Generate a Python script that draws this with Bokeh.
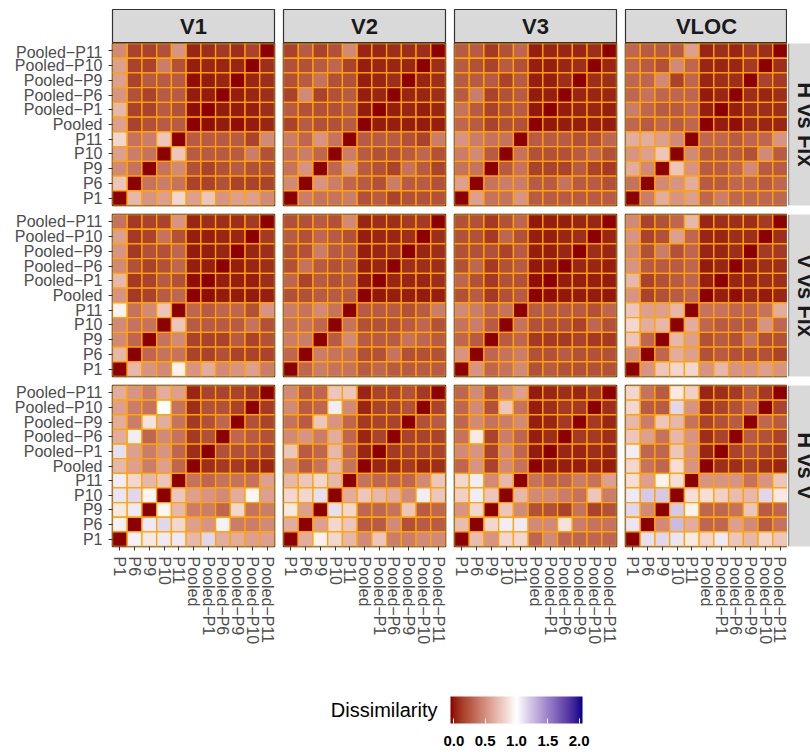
import numpy as np
from bokeh.plotting import figure
from bokeh.models import (FactorRange, Range1d, ColumnDataSource, LinearColorMapper, ColorBar,
                          FixedTicker, PrintfTickFormatter, Span)
from bokeh.layouts import gridplot, column
from bokeh.transform import transform
from bokeh.core.properties import value
from bokeh.embed import file_html
from bokeh.resources import INLINE

M = "\u2212"
categories = ["P1", "P6", "P9", "P10", "P11", "Pooled", "Pooled" + M + "P1", "Pooled" + M + "P6",
              "Pooled" + M + "P9", "Pooled" + M + "P10", "Pooled" + M + "P11"]
col_facets = ["V1", "V2", "V3", "VLOC"]
row_facets = ["H vs Fix", "V vs Fix", "H vs V"]
legend_title = "Dissimilarity"
legend_ticks = [0.0, 0.5, 1.0, 1.5, 2.0]

# each matrix: rows from top (Pooled-P11) to bottom (P1); columns P1 ... Pooled-P11
hfix_v1 = [
    [0.50, 0.20, 0.20, 0.25, 0.55, 0.09, 0.12, 0.16, 0.12, 0.20, 0],
    [0.60, 0.20, 0.20, 0.45, 0.25, 0.07, 0.09, 0.09, 0.09, 0, 0.12],
    [0.60, 0.20, 0.30, 0.30, 0.30, 0.03, 0.06, 0.09, 0, 0.09, 0.12],
    [0.55, 0.25, 0.20, 0.30, 0.30, 0.06, 0.06, 0, 0.07, 0.09, 0.12],
    [0.70, 0.20, 0.20, 0.30, 0.25, 0.03, 0, 0.06, 0.06, 0.07, 0.12],
    [0.60, 0.20, 0.25, 0.30, 0.30, 0, 0.03, 0.06, 0.03, 0.06, 0.09],
    [0.83, 0.40, 0.45, 0.76, 0, 0.30, 0.30, 0.30, 0.30, 0.20, 0.50],
    [0.60, 0.45, 0.40, 0, 0.76, 0.30, 0.30, 0.30, 0.30, 0.45, 0.25],
    [0.50, 0.40, 0, 0.40, 0.50, 0.25, 0.20, 0.25, 0.30, 0.25, 0.25],
    [0.76, 0, 0.40, 0.45, 0.40, 0.20, 0.20, 0.25, 0.20, 0.20, 0.20],
    [0, 0.70, 0.55, 0.60, 0.83, 0.60, 0.76, 0.55, 0.60, 0.60, 0.50],
]
hfix_v2 = [
    [0.20, 0.30, 0.20, 0.25, 0.50, 0.09, 0.09, 0.12, 0.12, 0.12, 0],
    [0.25, 0.25, 0.30, 0.35, 0.20, 0.07, 0.09, 0.09, 0.09, 0, 0.12],
    [0.25, 0.30, 0.40, 0.25, 0.25, 0.07, 0.09, 0.12, 0, 0.09, 0.12],
    [0.20, 0.50, 0.20, 0.25, 0.30, 0.07, 0.09, 0, 0.09, 0.09, 0.12],
    [0.30, 0.25, 0.25, 0.25, 0.30, 0.06, 0, 0.07, 0.09, 0.07, 0.09],
    [0.20, 0.30, 0.25, 0.25, 0.30, 0, 0.06, 0.07, 0.07, 0.06, 0.07],
    [0.45, 0.35, 0.55, 0.40, 0, 0.30, 0.30, 0.30, 0.25, 0.20, 0.45],
    [0.40, 0.45, 0.35, 0, 0.45, 0.30, 0.25, 0.25, 0.30, 0.35, 0.25],
    [0.40, 0.55, 0, 0.35, 0.55, 0.30, 0.25, 0.20, 0.40, 0.30, 0.20],
    [0.50, 0, 0.55, 0.45, 0.35, 0.30, 0.25, 0.45, 0.30, 0.30, 0.25],
    [0, 0.45, 0.40, 0.40, 0.45, 0.25, 0.30, 0.20, 0.25, 0.25, 0.25],
]
hfix_v3 = [
    [0.30, 0.30, 0.16, 0.25, 0.35, 0.07, 0.09, 0.09, 0.09, 0.12, 0],
    [0.30, 0.25, 0.20, 0.30, 0.25, 0.07, 0.07, 0.09, 0.12, 0, 0.09],
    [0.30, 0.30, 0.30, 0.20, 0.30, 0.07, 0.07, 0.12, 0, 0.12, 0.12],
    [0.30, 0.45, 0.20, 0.25, 0.30, 0.06, 0.07, 0, 0.09, 0.09, 0.09],
    [0.40, 0.30, 0.20, 0.25, 0.30, 0.05, 0, 0.06, 0.09, 0.09, 0.07],
    [0.35, 0.30, 0.20, 0.25, 0.25, 0, 0.05, 0.06, 0.07, 0.07, 0.06],
    [0.55, 0.45, 0.40, 0.40, 0, 0.30, 0.30, 0.30, 0.25, 0.25, 0.35],
    [0.45, 0.50, 0.30, 0, 0.40, 0.25, 0.25, 0.25, 0.30, 0.35, 0.25],
    [0.40, 0.40, 0, 0.30, 0.40, 0.20, 0.20, 0.20, 0.30, 0.20, 0.16],
    [0.60, 0, 0.40, 0.45, 0.45, 0.30, 0.30, 0.40, 0.30, 0.30, 0.25],
    [0, 0.60, 0.40, 0.40, 0.55, 0.30, 0.30, 0.30, 0.30, 0.30, 0.30],
]
hfix_vloc = [
    [0.35, 0.30, 0.30, 0.30, 0.60, 0.09, 0.12, 0.09, 0.16, 0.12, 0],
    [0.35, 0.30, 0.25, 0.50, 0.35, 0.09, 0.09, 0.09, 0.16, 0, 0.12],
    [0.35, 0.35, 0.50, 0.20, 0.35, 0.09, 0.12, 0.12, 0, 0.20, 0.16],
    [0.35, 0.40, 0.35, 0.35, 0.35, 0.06, 0.09, 0, 0.12, 0.09, 0.12],
    [0.45, 0.35, 0.30, 0.30, 0.35, 0.07, 0, 0.07, 0.12, 0.12, 0.12],
    [0.35, 0.30, 0.35, 0.30, 0.35, 0, 0.06, 0.03, 0.12, 0.09, 0.09],
    [0.65, 0.65, 0.60, 0.50, 0, 0.35, 0.35, 0.30, 0.35, 0.35, 0.55],
    [0.55, 0.60, 0.76, 0, 0.50, 0.30, 0.30, 0.30, 0.25, 0.50, 0.30],
    [0.65, 0.50, 0, 0.76, 0.55, 0.30, 0.30, 0.35, 0.50, 0.30, 0.30],
    [0.40, 0, 0.50, 0.55, 0.65, 0.30, 0.30, 0.35, 0.35, 0.30, 0.35],
    [0, 0.45, 0.65, 0.55, 0.60, 0.35, 0.45, 0.35, 0.35, 0.35, 0.35],
]
vfix_v1 = [
    [0.40, 0.16, 0.20, 0.20, 0.55, 0.09, 0.12, 0.12, 0.12, 0.16, 0],
    [0.60, 0.16, 0.20, 0.40, 0.25, 0.07, 0.07, 0.09, 0.09, 0, 0.16],
    [0.55, 0.16, 0.25, 0.25, 0.35, 0.06, 0.07, 0.09, 0, 0.09, 0.12],
    [0.50, 0.25, 0.20, 0.25, 0.35, 0.07, 0.07, 0, 0.07, 0.09, 0.12],
    [0.70, 0.16, 0.20, 0.30, 0.25, 0.03, 0, 0.07, 0.07, 0.07, 0.12],
    [0.55, 0.16, 0.20, 0.30, 0.35, 0, 0.03, 0.06, 0.06, 0.06, 0.07],
    [0.94, 0.40, 0.50, 0.76, 0, 0.35, 0.30, 0.35, 0.35, 0.25, 0.55],
    [0.50, 0.40, 0.40, 0, 0.76, 0.30, 0.30, 0.30, 0.30, 0.40, 0.25],
    [0.50, 0.35, 0, 0.40, 0.50, 0.20, 0.20, 0.20, 0.30, 0.20, 0.25],
    [0.70, 0, 0.35, 0.40, 0.40, 0.20, 0.20, 0.25, 0.20, 0.20, 0.20],
    [0, 0.70, 0.55, 0.50, 0.94, 0.55, 0.65, 0.50, 0.55, 0.60, 0.45],
]
vfix_v2 = [
    [0.25, 0.25, 0.30, 0.25, 0.50, 0.09, 0.12, 0.12, 0.16, 0.16, 0],
    [0.30, 0.25, 0.35, 0.30, 0.25, 0.07, 0.09, 0.09, 0.12, 0, 0.12],
    [0.25, 0.25, 0.45, 0.30, 0.30, 0.07, 0.09, 0.12, 0, 0.09, 0.12],
    [0.25, 0.40, 0.30, 0.25, 0.30, 0.07, 0.09, 0, 0.12, 0.12, 0.12],
    [0.35, 0.20, 0.30, 0.25, 0.30, 0.06, 0, 0.09, 0.09, 0.09, 0.12],
    [0.25, 0.25, 0.30, 0.30, 0.30, 0, 0.05, 0.07, 0.07, 0.06, 0.07],
    [0.45, 0.40, 0.50, 0.40, 0, 0.30, 0.30, 0.30, 0.25, 0.30, 0.45],
    [0.40, 0.40, 0.35, 0, 0.40, 0.25, 0.25, 0.25, 0.30, 0.35, 0.25],
    [0.45, 0.45, 0, 0.30, 0.50, 0.30, 0.30, 0.30, 0.40, 0.35, 0.30],
    [0.35, 0, 0.45, 0.40, 0.40, 0.25, 0.25, 0.40, 0.25, 0.25, 0.25],
    [0, 0.35, 0.45, 0.40, 0.40, 0.30, 0.35, 0.30, 0.30, 0.30, 0.30],
]
vfix_v3 = [
    [0.25, 0.25, 0.16, 0.25, 0.35, 0.05, 0.07, 0.07, 0.09, 0.09, 0],
    [0.25, 0.25, 0.16, 0.35, 0.25, 0.07, 0.07, 0.09, 0.12, 0, 0.09],
    [0.25, 0.25, 0.25, 0.20, 0.30, 0.07, 0.07, 0.09, 0, 0.12, 0.09],
    [0.25, 0.35, 0.16, 0.25, 0.30, 0.05, 0.07, 0, 0.09, 0.09, 0.07],
    [0.35, 0.25, 0.16, 0.25, 0.25, 0.03, 0, 0.06, 0.07, 0.07, 0.06],
    [0.25, 0.30, 0.16, 0.25, 0.30, 0, 0.03, 0.05, 0.06, 0.06, 0.05],
    [0.50, 0.45, 0.35, 0.40, 0, 0.30, 0.30, 0.30, 0.30, 0.25, 0.35],
    [0.40, 0.45, 0.30, 0, 0.40, 0.25, 0.25, 0.25, 0.20, 0.35, 0.25],
    [0.35, 0.30, 0, 0.30, 0.35, 0.16, 0.16, 0.16, 0.20, 0.16, 0.16],
    [0.55, 0, 0.35, 0.40, 0.45, 0.25, 0.25, 0.30, 0.25, 0.25, 0.25],
    [0, 0.55, 0.35, 0.40, 0.50, 0.25, 0.30, 0.25, 0.25, 0.25, 0.25],
]
vfix_vloc = [
    [0.50, 0.20, 0.25, 0.35, 0.70, 0.09, 0.12, 0.12, 0.12, 0.16, 0],
    [0.55, 0.20, 0.25, 0.60, 0.35, 0.09, 0.09, 0.12, 0.12, 0, 0.12],
    [0.50, 0.25, 0.45, 0.25, 0.35, 0.09, 0.09, 0.12, 0, 0.16, 0.16],
    [0.55, 0.30, 0.30, 0.30, 0.35, 0.06, 0.09, 0, 0.09, 0.12, 0.12],
    [0.70, 0.20, 0.25, 0.30, 0.35, 0.07, 0, 0.09, 0.09, 0.12, 0.12],
    [0.55, 0.20, 0.25, 0.30, 0.35, 0, 0.07, 0.03, 0.09, 0.06, 0.09],
    [0.76, 0.60, 0.60, 0.70, 0, 0.40, 0.40, 0.35, 0.35, 0.40, 0.65],
    [0.83, 0.65, 0.70, 0, 0.65, 0.35, 0.30, 0.30, 0.30, 0.55, 0.35],
    [0.76, 0.35, 0, 0.70, 0.60, 0.25, 0.30, 0.25, 0.40, 0.25, 0.25],
    [0.50, 0, 0.35, 0.65, 0.60, 0.25, 0.30, 0.25, 0.25, 0.25, 0.20],
    [0, 0.55, 0.76, 0.83, 0.83, 0.55, 0.70, 0.55, 0.55, 0.60, 0.55],
]
hv_v1 = [
    [0.65, 0.55, 0.45, 0.65, 0.60, 0.09, 0.20, 0.20, 0.20, 0.16, 0],
    [0.60, 0.45, 0.40, 1.00, 0.40, 0.12, 0.25, 0.25, 0.20, 0, 0.16],
    [0.65, 0.45, 0.88, 0.65, 0.40, 0.16, 0.25, 0.35, 0, 0.25, 0.20],
    [0.65, 1.07, 0.35, 0.50, 0.40, 0.16, 0.25, 0, 0.35, 0.30, 0.25],
    [1.12, 0.60, 0.45, 0.55, 0.35, 0.12, 0, 0.25, 0.25, 0.25, 0.20],
    [0.70, 0.60, 0.45, 0.60, 0.35, 0, 0.12, 0.16, 0.16, 0.12, 0.09],
    [1.07, 0.83, 0.70, 0.76, 0, 0.40, 0.35, 0.40, 0.40, 0.40, 0.60],
    [1.10, 1.15, 0.96, 0, 0.76, 0.60, 0.55, 0.50, 0.65, 0.96, 0.60],
    [0.91, 1.08, 0, 0.96, 0.70, 0.45, 0.45, 0.35, 0.83, 0.40, 0.45],
    [1.05, 0, 1.08, 1.15, 0.83, 0.60, 0.55, 1.05, 0.45, 0.45, 0.50],
    [0, 1.05, 0.91, 1.08, 1.08, 0.70, 1.15, 0.65, 0.65, 0.60, 0.60],
]
hv_v2 = [
    [0.50, 0.30, 0.35, 0.76, 0.76, 0.09, 0.20, 0.20, 0.25, 0.16, 0],
    [0.50, 0.30, 0.35, 1.07, 0.50, 0.09, 0.20, 0.20, 0.25, 0, 0.20],
    [0.40, 0.30, 0.76, 0.55, 0.35, 0.16, 0.20, 0.20, 0, 0.25, 0.30],
    [0.50, 0.55, 0.45, 0.65, 0.35, 0.09, 0.20, 0, 0.20, 0.20, 0.20],
    [0.76, 0.30, 0.35, 0.70, 0.35, 0.09, 0, 0.16, 0.20, 0.20, 0.20],
    [0.50, 0.30, 0.40, 0.70, 0.40, 0, 0.09, 0.09, 0.16, 0.09, 0.12],
    [0.70, 0.76, 0.83, 0.70, 0, 0.40, 0.35, 0.35, 0.35, 0.50, 0.76],
    [0.83, 0.83, 1.12, 0, 0.65, 0.76, 0.70, 0.65, 0.50, 1.07, 0.76],
    [0.91, 0.60, 0, 1.12, 0.83, 0.35, 0.35, 0.40, 0.76, 0.30, 0.35],
    [0.65, 0, 0.60, 0.83, 0.76, 0.30, 0.30, 0.50, 0.25, 0.30, 0.30],
    [0, 0.65, 0.94, 0.83, 0.70, 0.50, 0.76, 0.45, 0.45, 0.50, 0.50],
]
hv_v3 = [
    [0.35, 0.50, 0.25, 0.50, 0.60, 0.06, 0.09, 0.12, 0.09, 0.16, 0],
    [0.35, 0.50, 0.25, 0.76, 0.40, 0.07, 0.12, 0.16, 0.16, 0, 0.12],
    [0.35, 0.50, 0.40, 0.45, 0.50, 0.07, 0.09, 0.16, 0, 0.16, 0.09],
    [0.40, 0.91, 0.20, 0.45, 0.35, 0.07, 0.12, 0, 0.16, 0.16, 0.12],
    [0.50, 0.55, 0.20, 0.50, 0.35, 0.06, 0, 0.09, 0.09, 0.12, 0.09],
    [0.35, 0.55, 0.20, 0.50, 0.40, 0, 0.06, 0.07, 0.07, 0.09, 0.06],
    [0.83, 1.07, 0.50, 0.70, 0, 0.40, 0.35, 0.35, 0.45, 0.40, 0.60],
    [0.80, 1.07, 0.76, 0, 0.70, 0.50, 0.50, 0.45, 0.40, 0.76, 0.45],
    [0.55, 0.83, 0, 0.76, 0.50, 0.25, 0.25, 0.20, 0.40, 0.20, 0.25],
    [0.72, 0, 0.83, 1.07, 1.08, 0.50, 0.50, 0.88, 0.45, 0.40, 0.40],
    [0, 0.72, 0.55, 0.83, 0.83, 0.35, 0.50, 0.35, 0.35, 0.35, 0.35],
]
hv_vloc = [
    [0.83, 0.40, 0.30, 0.91, 0.80, 0.09, 0.12, 0.16, 0.30, 0.16, 0],
    [0.83, 0.30, 0.30, 1.15, 0.55, 0.12, 0.20, 0.25, 0.35, 0, 0.20],
    [0.70, 0.45, 0.76, 0.70, 0.40, 0.20, 0.25, 0.30, 0, 0.35, 0.30],
    [0.76, 0.60, 0.40, 0.70, 0.55, 0.12, 0.20, 0, 0.30, 0.25, 0.20],
    [1.07, 0.35, 0.35, 0.76, 0.55, 0.09, 0, 0.20, 0.25, 0.20, 0.16],
    [0.83, 0.40, 0.35, 0.86, 0.55, 0, 0.12, 0.12, 0.20, 0.12, 0.09],
    [0.86, 0.60, 0.94, 0.86, 0, 0.55, 0.55, 0.55, 0.40, 0.55, 0.76],
    [1.08, 1.20, 1.20, 0, 0.86, 0.86, 0.80, 0.72, 0.70, 1.15, 0.91],
    [1.15, 0.50, 0, 1.20, 0.94, 0.35, 0.35, 0.40, 0.76, 0.30, 0.35],
    [1.10, 0, 0.50, 1.25, 0.65, 0.35, 0.35, 0.60, 0.50, 0.30, 0.40],
    [0, 1.12, 1.15, 1.10, 0.91, 0.83, 1.08, 0.76, 0.70, 0.83, 0.76],
]

matrices = [
    [hfix_v1, hfix_v2, hfix_v3, hfix_vloc],
    [vfix_v1, vfix_v2, vfix_v3, vfix_vloc],
    [hv_v1, hv_v2, hv_v3, hv_vloc],
]

# ---- diverging palette darkred -> white -> darkblue, interpolated in CIE Lab ----
_M = np.array([[0.4124564, 0.3575761, 0.1804375],
               [0.2126729, 0.7151522, 0.0721750],
               [0.0193339, 0.1191920, 0.9503041]])
_WP = np.array([0.95047, 1.0, 1.08883])
_D = 6 / 29


def to_lab(hexc):
    c = np.array([int(hexc[i:i + 2], 16) for i in (1, 3, 5)]) / 255.0
    lin = np.where(c <= 0.04045, c / 12.92, ((c + 0.055) / 1.055) ** 2.4)
    xyz = _M @ lin / _WP
    f = np.where(xyz > _D ** 3, np.cbrt(xyz), xyz / (3 * _D * _D) + 4 / 29)
    return np.array([116 * f[1] - 16, 500 * (f[0] - f[1]), 200 * (f[1] - f[2])])


def from_lab(lab):
    L, a, b = lab
    fy = (L + 16) / 116
    f = np.array([fy + a / 500, fy, fy - b / 200])
    xyz = np.where(f > _D, f ** 3, 3 * _D * _D * (f - 4 / 29)) * _WP
    lin = np.clip(np.linalg.inv(_M) @ xyz, 0, 1)
    s = np.where(lin <= 0.0031308, 12.92 * lin, 1.055 * lin ** (1 / 2.4) - 0.055)
    r, g, bb = np.clip(np.round(s * 255), 0, 255).astype(int)
    return "#%02x%02x%02x" % (r, g, bb)


lab_lo, lab_mid, lab_hi = to_lab("#8b0000"), to_lab("#ffffff"), to_lab("#00008b")
palette = []
for i in range(256):
    t = 2 * i / 255
    if t <= 1:
        palette.append(from_lab(lab_lo + (lab_mid - lab_lo) * t))
    else:
        palette.append(from_lab(lab_mid + (lab_hi - lab_mid) * (t - 1)))

mapper = LinearColorMapper(palette=palette, low=0, high=2)

FONT = "Liberation Sans"
PANEL = 162
STRIP_FILL = "#d9d9d9"
STRIP_LINE = "#333333"


def borders(ri, ci):
    left = 112 if ci == 0 else 5
    right = 0 if ci == 3 else 4
    top = 0 if ri == 0 else 5
    bottom = 100 if ri == 2 else 4
    return left, right, top, bottom


def make_panel(ri, ci):
    left, right, top, bottom = borders(ri, ci)
    p = figure(width=left + PANEL + right, height=top + PANEL + bottom,
               x_range=FactorRange(*categories), y_range=FactorRange(*categories),
               x_axis_location="below" if ri == 2 else None,
               y_axis_location="left" if ci == 0 else None,
               min_border_left=left, min_border_right=right,
               min_border_top=top, min_border_bottom=bottom,
               output_backend="svg", toolbar_location=None)
    mat = matrices[ri][ci]
    xs, ys, vs = [], [], []
    n = len(categories)
    for r, rowvals in enumerate(mat):
        for c, v in enumerate(rowvals):
            xs.append(categories[c])
            ys.append(categories[n - 1 - r])
            vs.append(v)
    src = ColumnDataSource(dict(x=xs, y=ys, v=vs))
    p.rect(x="x", y="y", width=1, height=1, source=src,
           fill_color=transform("v", mapper), line_color="#ffa500", line_width=1.3)
    p.grid.visible = False
    p.outline_line_color = "#1a1a1a"
    p.outline_line_width = 1.5
    p.background_fill_color = "white"
    for ax in p.axis:
        ax.axis_line_color = None
        ax.major_tick_line_color = "#333333"
        ax.major_tick_out = 4
        ax.major_tick_in = 0
        ax.major_label_text_font = FONT
        ax.major_label_text_font_size = "16px"
        ax.major_label_text_color = "#4d4d4d"
        ax.major_label_standoff = 6
    if ri == 2:
        p.xaxis.major_label_orientation = "vertical"
    return p


def make_top_strip(ci):
    left, right, _, _ = borders(0, ci)
    name = col_facets[ci]
    p = figure(width=left + PANEL + right, height=43,
               x_range=FactorRange(name), y_range=Range1d(0, 1),
               x_axis_location=None, y_axis_location=None,
               min_border_left=left, min_border_right=right, min_border_top=9, min_border_bottom=0,
               output_backend="svg", toolbar_location=None)
    p.grid.visible = False
    p.background_fill_color = STRIP_FILL
    p.outline_line_color = STRIP_LINE
    p.outline_line_width = 1.2
    p.text(x=[name], y=[0.5], text=[name], text_font=value(FONT), text_font_style="bold",
           text_font_size="22px", text_color="#1a1a1a", text_align="center", text_baseline="middle")
    return p


def make_right_strip(ri):
    _, _, top, bottom = borders(ri, 3)
    name = row_facets[ri]
    p = figure(width=23, height=top + PANEL + bottom,
               x_range=Range1d(0, 22 / 34), y_range=FactorRange(name),
               x_axis_location=None, y_axis_location=None,
               min_border_left=1, min_border_right=0, min_border_top=top, min_border_bottom=bottom,
               output_backend="svg", toolbar_location=None)
    p.grid.visible = False
    p.background_fill_color = STRIP_FILL
    p.outline_line_color = None
    p.text(x=[0.5], y=[name], text=[name], angle=-np.pi / 2, text_font=value(FONT),
           text_font_style="bold", text_font_size="22px", text_color="#1a1a1a",
           text_align="center", text_baseline="middle")
    p.add_layout(Span(location=0, dimension="height", line_color=STRIP_LINE, line_width=1.2))
    return p


rows = [[make_top_strip(ci) for ci in range(4)] + [None]]
for ri in range(3):
    rows.append([make_panel(ri, ci) for ci in range(4)] + [make_right_strip(ri)])
grid = gridplot(rows, toolbar_location=None)

# ---- legend ----
lw, lh = 810, 105
leg = figure(width=lw, height=lh, x_range=Range1d(0, lw), y_range=Range1d(0, lh),
             x_axis_location=None, y_axis_location=None, min_border=0,
             output_backend="svg", toolbar_location=None)
leg.grid.visible = False
leg.outline_line_color = None
leg.text(x=[437], y=[42.5], text=[legend_title], text_font=value(FONT), text_font_size="20px",
         text_color="black", text_align="right", text_baseline="middle")
bar_mapper = LinearColorMapper(palette=palette, low=-0.053, high=2.053)
cb = ColorBar(color_mapper=bar_mapper, orientation="horizontal", width=132, height=27,
              location=(450, 4), padding=0, ticker=FixedTicker(ticks=legend_ticks),
              formatter=PrintfTickFormatter(format="%.1f"),
              major_label_text_font=FONT, major_label_text_font_style="bold",
              major_label_text_font_size="15px", major_label_text_color="black",
              major_tick_line_color="white", major_tick_in=5, major_tick_out=0,
              label_standoff=12, bar_line_color=None, border_line_color=None,
              background_fill_alpha=0)
leg.add_layout(cb, "center")

root = column(grid, leg)
open("out.html", "w").write(file_html(root, INLINE))
